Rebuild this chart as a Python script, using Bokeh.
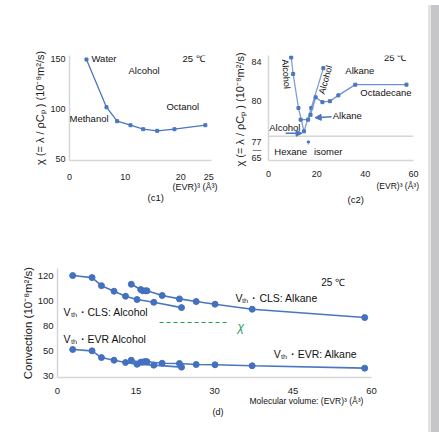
import numpy as np
from bokeh.plotting import figure
from bokeh.models import Range1d, FixedTicker, Label, Arrow, NormalHead, Span, Div, Title
from bokeh.layouts import row, column
from bokeh.embed import file_html
from bokeh.resources import INLINE

FONT = "Liberation Sans"
BLUE = "#4a76c0"
AXIS = "#d6d6d6"
GREEN = "#1f9e58"

# ---------------- data: panel (c1) ----------------
c1_x = [3.05, 6.64, 8.56, 10.95, 13.23, 15.75, 18.85, 24.4]
c1_y = [149.0, 101.3, 87.3, 83.3, 79.3, 77.7, 79.3, 83.3]
c1_xticks = [0, 10, 20, 25]
c1_yticks = [50, 100, 150]

# ---------------- data: panel (c2) ----------------
c2_alc_x = [9.4, 10.2, 12.4, 14.7, 17.7, 22.7]
c2_alc_y = [84.5, 82.8, 79.3, 76.9, 79.3, 83.4]
c2_alk_x = [13.3, 16.4, 17.4, 19.5, 22.3, 25.4, 28.9, 35.9, 57.1]
c2_alk_y = [78.1, 78.1, 78.6, 80.4, 79.9, 80.0, 80.6, 81.7, 81.7]
c2_iso_x = [16.5, 16.5, 16.5, 16.5]
c2_iso_y = [77.0, 76.0, 75.0, 74.0]
c2_xticks = [0, 20, 40, 60]
c2_upper_ticks = [80, 84]
c2_lower_ticks = [65, 77]

# ---------------- data: panel (d) ----------------
d_alc_x = [2.9, 6.6, 8.4, 10.8, 13.0, 15.2, 18.4, 23.7]
d_cls_alc = [120.6, 118.4, 112.0, 107.6, 103.6, 101.0, 98.8, 94.6]
d_evr_alc = [52.1, 50.5, 45.0, 42.9, 41.1, 39.7, 39.0, 37.4]
d_alk_x = [14.1, 15.9, 16.3, 16.8, 17.1, 20.0, 23.3, 26.5, 30.1, 37.2, 58.7]
d_cls_alk = [113.1, 108.9, 107.9, 107.9, 107.9, 104.2, 101.5, 99.4, 97.3, 93.3, 86.7]
d_evr_alk = [42.9, 41.3, 41.5, 41.9, 41.7, 40.5, 40.3, 39.5, 39.3, 38.5, 36.6]
d_chi_x = [19.5, 32.4]
d_chi_y = [82.8, 82.8]
d_xticks = [0, 15, 30, 45, 60]
d_yticks = [30, 50, 80, 100, 120]


# broken-axis helpers (the original axes are broken / unevenly labelled)
def c2_lower(v):
    return np.interp(v, [65, 77], [74.2, 75.8])


def d_pos(v):
    return np.interp(v, d_yticks, list(range(len(d_yticks))))


def style(p, tick_size="9px"):
    p.xgrid.visible = False
    p.ygrid.visible = False
    p.outline_line_color = None
    p.background_fill_color = "white"
    p.border_fill_color = "white"
    for ax in p.axis:
        ax.major_tick_line_color = None
        ax.minor_tick_line_color = None
        ax.major_tick_out = 0
        ax.major_tick_in = 0
        ax.minor_tick_out = 0
        ax.axis_line_color = AXIS
        ax.axis_line_width = 1.5
        ax.major_label_text_font = FONT
        ax.major_label_text_font_size = tick_size
        ax.major_label_text_color = "#222222"
        ax.axis_label_text_font = FONT
        ax.axis_label_text_font_style = "normal"
        ax.axis_label_text_color = "#222222"


def txt(p, x, y, text, size="9.5px", angle=0.0, color="#111111", align="left",
        style_="normal", font=FONT):
    p.add_layout(Label(x=x, y=y, text=text, text_font=font, text_font_size=size,
                       text_color=color, text_align=align, text_baseline="middle",
                       angle=angle, text_font_style=style_))


def below(p, text, offset, size="9px", standoff=0):
    p.add_layout(Title(text=text, align="left", offset=offset, text_font=FONT,
                       text_font_size=size, text_font_style="normal",
                       text_color="#111111", standoff=standoff), "below")


# ================= panel (c1) =================
p1 = figure(width=231, height=215, x_range=Range1d(0, 25.5), y_range=Range1d(48, 153),
            output_backend="svg", toolbar_location=None,
            min_border_left=69, min_border_right=20, min_border_top=55, min_border_bottom=55)
style(p1)
p1.xaxis.ticker = FixedTicker(ticks=c1_xticks)
p1.yaxis.ticker = FixedTicker(ticks=c1_yticks)
p1.xaxis.major_label_standoff = 13
p1.yaxis.major_label_standoff = 4
p1.yaxis.axis_label = "χ (= λ / ρCₚ ) (10⁻⁸m²/s)"
p1.yaxis.axis_label_text_font_size = "11px"
p1.yaxis.axis_label_standoff = 1
p1.line(c1_x, c1_y, line_color=BLUE, line_width=1.3)
p1.scatter(c1_x, c1_y, marker="square", size=3, color=BLUE)
txt(p1, 3.95, 150, "Water")
txt(p1, 10.6, 138, "Alcohol")
txt(p1, 20.3, 150, "25 ℃")
txt(p1, 17.4, 102, "Octanol")
txt(p1, 0.0, 90, "Methanol")
below(p1, "(EVR)³ (Å³)", 103, size="9px", standoff=-6)
below(p1, "(c1)", 78, size="9.5px", standoff=3)

# ================= panel (c2) =================
p2 = figure(width=192, height=215, x_range=Range1d(0, 60), y_range=Range1d(73.9, 84.7),
            output_backend="svg", toolbar_location=None,
            min_border_left=35, min_border_right=10, min_border_top=55, min_border_bottom=52)
style(p2)
low_pos = [float(v) for v in c2_lower(c2_lower_ticks)]
sep_pos = float(c2_lower(71))
p2.xaxis.ticker = FixedTicker(ticks=c2_xticks)
p2.yaxis.ticker = FixedTicker(ticks=low_pos + [sep_pos] + c2_upper_ticks)
p2.yaxis.major_label_overrides = {low_pos[0]: str(c2_lower_ticks[0]),
                                  low_pos[1]: str(c2_lower_ticks[1]),
                                  sep_pos: "—"}
p2.xaxis.major_label_standoff = 10
p2.yaxis.major_label_standoff = 7
p2.yaxis.axis_label = "χ (= λ / ρCₚ )  (10⁻⁸m²/s)"
p2.yaxis.axis_label_text_font_size = "11px"
p2.yaxis.axis_label_standoff = 2
p2.add_layout(Span(location=76.4, dimension="width", line_color=AXIS, line_width=1.5))
p2.line(c2_alc_x, c2_alc_y, line_color="#7f9fd6", line_width=1.3)
p2.scatter(c2_alc_x, c2_alc_y, marker="square", size=3, color=BLUE)
p2.line(c2_alk_x, c2_alk_y, line_color="#6f93d2", line_width=1.3)
p2.scatter(c2_alk_x, c2_alk_y, marker="square", size=3, color=BLUE)
iso_pos = c2_lower(c2_iso_y)
p2.line(c2_iso_x, iso_pos, line_color="#8fb0e0", line_width=1, line_dash="1 1")
p2.scatter(c2_iso_x[:1], iso_pos[:1], size=2.5, color=BLUE)
txt(p2, 7.3, 82.8, "Alcohol", size="9px", angle=-1.5, align="center")
txt(p2, 23.6, 82.2, "Alcohol", size="9px", angle=1.3, align="center")
txt(p2, 31.8, 83.2, "Alkane")
txt(p2, 38.0, 80.9, "Octadecane")
txt(p2, 26.6, 78.5, "Alkane")
txt(p2, 0.3, 77.3, "Alcohol")
txt(p2, 47.8, 84.5, "25 ℃")
txt(p2, 2.4, 74.8, "Hexane")
txt(p2, 18.8, 74.8, "isomer")
below(p2, "(EVR)³ (Å³)", 108, size="8.5px", standoff=-1)
below(p2, "(c2)", 79, size="9.5px", standoff=2)
p2.add_layout(Arrow(x_start=26.1, y_start=78.4, x_end=19.3, y_end=78.3,
                    line_color=BLUE, line_width=1.5,
                    end=NormalHead(size=6, fill_color=BLUE, line_color=BLUE)))
p2.add_layout(Arrow(x_start=7.1, y_start=76.7, x_end=13.9, y_end=76.7,
                    line_color=BLUE, line_width=1.5,
                    end=NormalHead(size=6, fill_color=BLUE, line_color=BLUE)))

# ================= panel (d) =================
p3 = figure(width=423, height=217, x_range=Range1d(0, 60), y_range=Range1d(-0.04, 4.28),
            output_backend="svg", toolbar_location=None,
            min_border_left=57, min_border_right=52, min_border_top=53, min_border_bottom=55)
style(p3, tick_size="9.5px")
ypos_ticks = [float(v) for v in d_pos(d_yticks)]
p3.xaxis.ticker = FixedTicker(ticks=d_xticks)
p3.yaxis.ticker = FixedTicker(ticks=ypos_ticks)
p3.yaxis.major_label_overrides = {t: str(v) for t, v in zip(ypos_ticks, d_yticks)}
p3.xaxis.major_label_standoff = 10
p3.yaxis.major_label_standoff = 4
p3.yaxis.axis_label = "Convection (10⁻⁸m²/s)"
p3.yaxis.axis_label_text_font_size = "11.5px"
p3.yaxis.axis_label_standoff = 1

for xs, ys in [(d_alc_x, d_cls_alc), (d_alk_x, d_cls_alk), (d_alc_x, d_evr_alc), (d_alk_x, d_evr_alk)]:
    yy = d_pos(ys)
    p3.line(xs, yy, line_color=BLUE, line_width=1.6)
    p3.scatter(xs, yy, size=6, color="#4470c0")

p3.line(d_chi_x, d_pos(d_chi_y), line_color=GREEN, line_width=1.2, line_dash="4 3")
txt(p3, 34.4, 1.98, "χ", size="12px", color=GREEN, style_="italic")

txt(p3, 1.15, 2.57, "Vₜₕ・CLS: Alcohol", size="10.5px")
txt(p3, 1.15, 1.47, "Vₜₕ・EVR Alcohol", size="10.5px")
txt(p3, 34.0, 3.13, "Vₜₕ・CLS: Alkane", size="10.5px")
txt(p3, 41.3, 0.91, "Vₜₕ・EVR: Alkane", size="10.5px")
txt(p3, 50.4, 3.72, "25 ℃", size="10px")
below(p3, "Molecular volume: (EVR)³ (Å³)", 192, size="8.5px", standoff=-5)
below(p3, "(d)", 155, size="9px", standoff=2)

gray = Div(text="", width=16, height=432,
           styles={"background": "linear-gradient(to right, #e2e2e2 0px, #e2e2e2 3px, #c6c6c8 3px)"})

layout = row(column(row(p1, p2), p3), gray)

with open("out.html", "w") as f:
    f.write(file_html(layout, INLINE))
